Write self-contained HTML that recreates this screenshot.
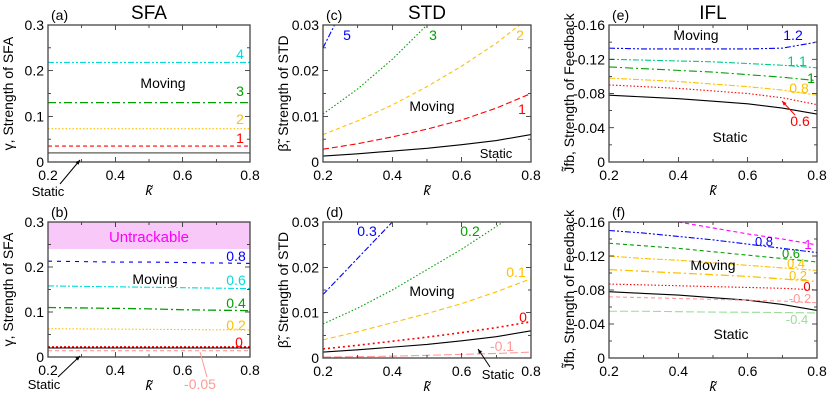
<!DOCTYPE html>
<html><head><meta charset="utf-8"><style>
body{margin:0;background:#fff}
svg{display:block;font-family:"Liberation Sans",sans-serif}
</style></head><body>
<svg id="fig" width="830" height="402" viewBox="0 0 830 402"></svg>
<script>
const xs = [0.2,0.3,0.4,0.5,0.6,0.7,0.8];
// panel a
const aStatic=[0.02,0.02,0.02,0.02,0.02,0.02,0.02];
const a1=[0.035,0.035,0.035,0.035,0.035,0.035,0.035];
const a2=[0.073,0.073,0.073,0.073,0.073,0.073,0.073];
const a3=[0.13,0.13,0.13,0.13,0.13,0.13,0.13];
const a4=[0.218,0.218,0.218,0.218,0.218,0.218,0.218];
// panel b
const b08=[0.213,0.212,0.211,0.211,0.21,0.209,0.208];
const b06=[0.158,0.157,0.156,0.155,0.154,0.153,0.152];
const b04=[0.11,0.109,0.108,0.107,0.105,0.104,0.103];
const b02=[0.063,0.0625,0.062,0.0615,0.061,0.0605,0.06];
const b0=[0.022,0.022,0.022,0.022,0.022,0.022,0.022];
const bStatic=[0.02,0.02,0.02,0.02,0.02,0.02,0.02];
const bm005=[0.014,0.014,0.014,0.014,0.014,0.014,0.014];
// panel c
const cStatic=[0.0013,0.0018,0.0024,0.003,0.0038,0.0047,0.006];
const c1=[0.0028,0.004,0.0055,0.0072,0.0092,0.0118,0.015];
const c2=[0.006,0.009,0.0125,0.0165,0.021,0.026,0.032];
const c3=[0.0105,0.016,0.0225,0.03,0.039,0.049,0.06];
const c5=[0.025,0.04,0.055,0.07,0.085,0.1,0.115];
// panel d
const dStatic=[0.0013,0.0018,0.0024,0.003,0.0038,0.0047,0.006];
const d0=[0.002,0.0028,0.0037,0.0046,0.0056,0.0067,0.008];
const dm01=[0.0002,0.0003,0.0004,0.0006,0.0008,0.001,0.0013];
const d01=[0.004,0.0058,0.0078,0.0098,0.012,0.0146,0.0175];
const d02=[0.0075,0.011,0.015,0.0195,0.024,0.029,0.034];
const d03=[0.014,0.022,0.030,0.039,0.048,0.057,0.066];
// panel e (magnitudes of negative feedback)
const eStatic=[0.078,0.076,0.074,0.071,0.068,0.063,0.056];
const e06=[0.09,0.088,0.086,0.083,0.08,0.075,0.067];
const e08=[0.098,0.096,0.094,0.091,0.088,0.084,0.078];
const e1=[0.111,0.109,0.107,0.105,0.102,0.099,0.095];
const e11=[0.12,0.119,0.118,0.117,0.115,0.113,0.11];
const e12=[0.133,0.132,0.132,0.132,0.132,0.133,0.14];
// panel f
const f1=[0.172,0.166,0.16,0.153,0.146,0.14,0.133];
const f08=[0.15,0.147,0.143,0.139,0.134,0.129,0.124];
const f06=[0.135,0.132,0.129,0.125,0.121,0.117,0.113];
const f04=[0.12,0.117,0.115,0.112,0.109,0.106,0.103];
const f02=[0.104,0.102,0.1,0.098,0.096,0.093,0.09];
const f0=[0.087,0.086,0.085,0.084,0.083,0.082,0.08];
const fStatic=[0.078,0.076,0.074,0.071,0.068,0.063,0.056];
const fm02=[0.072,0.071,0.07,0.069,0.068,0.067,0.065];
const fm04=[0.055,0.055,0.0545,0.054,0.0538,0.0535,0.053];
const xTicks=[0.2,0.4,0.6,0.8];
const xTickLabels=["0.2","0.4","0.6","0.8"];
const ySFA=[0,0.1,0.2,0.3], ySFALab=["0","0.1","0.2","0.3"];
const ySTD=[0,0.01,0.02,0.03], ySTDLab=["0","0.01","0.02","0.03"];
const yIFL=[0,0.04,0.08,0.12,0.16], yIFLLab=["0","-0.04","-0.08","-0.12","-0.16"];

const NS="http://www.w3.org/2000/svg";
const svg=document.getElementById('fig');
function mk(tag,attrs,parent){const e=document.createElementNS(NS,tag);for(const k in attrs)e.setAttribute(k,attrs[k]);(parent||svg).appendChild(e);return e;}
function txt(s,x,y,opt,parent){const t=mk('text',Object.assign({x:x,y:y,'font-size':13,fill:'#000'},opt||{}),parent);t.textContent=s;return t;}

function panel(id,L,T,R,B,ymax,yt,ytl,ytitle,letter,title){
  const g=mk('g',{});
  
  
  const sx=v=>L+(v-0.2)/0.6*(R-L);
  const sy=v=>B-v/ymax*(B-T);
  const cp=mk('clipPath',{id:'cp'+id},g);
  mk('rect',{x:L,y:T,width:R-L,height:B-T},cp);
  const plot=mk('g',{'clip-path':'url(#cp'+id+')'},g);
  const tg=mk('g',{},g);
  
  
  for(let v=0.2;v<=0.8001;v+=0.1){const x=sx(v);const major=Math.abs((v*10)%2)<0.01||Math.abs((v*10)%2-2)<0.01;const len=major?5:3;
    mk('line',{x1:x,y1:B,x2:x,y2:B-len,stroke:'#000','stroke-width':0.7},tg);mk('line',{x1:x,y1:T,x2:x,y2:T+len,stroke:'#000','stroke-width':0.7},tg);}
  const step=yt[1]-yt[0];
  for(let i=0;i<=Math.round(ymax/step*2);i++){const v=i*step/2;const y=sy(v);const len=i%2==0?5:3;
    mk('line',{x1:L,y1:y,x2:L+len,y2:y,stroke:'#000','stroke-width':0.7},tg);mk('line',{x1:R,y1:y,x2:R-len,y2:y,stroke:'#000','stroke-width':0.7},tg);}
  xTicks.forEach((v,i)=>{const t=txt(xTickLabels[i],sx(v),B+18,{'text-anchor':'middle','font-size':14},g);});
  yt.forEach((v,i)=>{const t=txt(ytl[i],L-4,sy(v)+5,{'text-anchor':'end','font-size':14},g);});
  const xl=txt('k̃',(L+R)/2,B+33,{'text-anchor':'middle','font-size':14,'font-style':'italic'},g);
  
  const yc=(T+B)/2, ytx=L-35;
  const yl=txt(ytitle,ytx,yc,{'text-anchor':'middle','font-size':14,transform:'rotate(-90 '+ytx+' '+yc+')'},g);
  
  const lt=txt(letter,L+3,T-5,{'font-size':14},g);
  
  if(title){const tt=txt(title,(L+R)/2,T-6,{'text-anchor':'middle','font-size':19},g);}
  return {g,plot,sx,sy,L,T,R,B};
}
function series(p,name,vals,color,dash,w){
  const d=vals.map((v,i)=>(i?'L':'M')+p.sx(xs[i]).toFixed(2)+' '+p.sy(v).toFixed(2)).join(' ');
  const e=mk('path',{d:d,fill:'none',stroke:color,'stroke-width':w||1.1,'stroke-dasharray':dash||'none'},p.plot);
  
  
}
function lab(p,name,s,x,y,color,size){const t=txt(s,x,y,{fill:color,'font-size':size||14,'text-anchor':'middle'},p.g);}
function frame(p){mk('rect',{x:p.L,y:p.T,width:p.R-p.L,height:p.B-p.T,fill:'none',stroke:'#444','stroke-width':1.3},p.g);}
function arrow(p,x1,y1,x2,y2,color){mk('line',{x1:x1,y1:y1,x2:x2,y2:y2,stroke:color,'stroke-width':1},p.g);
  const a=Math.atan2(y2-y1,x2-x1),h=5;mk('path',{d:`M${x2} ${y2} L${x2-h*Math.cos(a-0.4)} ${y2-h*Math.sin(a-0.4)} L${x2-h*Math.cos(a+0.4)} ${y2-h*Math.sin(a+0.4)}Z`,fill:color},p.g);}

const RED='#ff0000',YEL='#ffc000',GRN='#00a000',CYN='#00dddd',BLU='#0000ff',PNK='#ff9999',MAG='#ff00ff',LGR='#99dd99',TEAL='#00cc88';
// a
let p=panel('a',48,25,250,162,0.3,ySFA,ySFALab,'γ, Strength of SFA','(a)','SFA');
series(p,'line-static',aStatic,'#777','',1.4);
series(p,'line-1',a1,RED,'4 3');
series(p,'line-2',a2,YEL,'1.5 2');
series(p,'line-3',a3,GRN,'8 3 2 3',1.3);
series(p,'line-4',a4,CYN,'6 2 2 2 2 2');
frame(p);
lab(p,'label-4','4',240,59,CYN);lab(p,'label-3','3',240,96,GRN);lab(p,'label-2','2',240,124,YEL);lab(p,'label-1','1',240,143,RED);
lab(p,'label-moving','Moving',163,88,'#000',14);
lab(p,'label-static','Static',48,196,'#000',13);arrow(p,60,184,80,160,'#000');
// b
p=panel('b',48,222,250,357,0.3,ySFA,ySFALab,'γ, Strength of SFA','(b)','');
mk('rect',{x:48,y:p.sy(0.3),width:202,height:p.sy(0.24)-p.sy(0.3),fill:'#f8c8f8'},p.plot);
series(p,'line-0.8',b08,BLU,'4 5');
series(p,'line-0.6',b06,CYN,'6 2 2 2');
series(p,'line-0.4',b04,GRN,'8 3 2 3',1.3);
series(p,'line-0.2',b02,YEL,'1.5 2');
series(p,'line-0',b0,RED,'2 2',2);
series(p,'line-static',bStatic,'#000','',1.1);
series(p,'line-m0.05',bm005,PNK,'4 3');
frame(p);
lab(p,'label-untrackable','Untrackable',149,242,MAG,15);
lab(p,'label-0.8','0.8',236,261,BLU);lab(p,'label-0.6','0.6',236,285,CYN);lab(p,'label-0.4','0.4',236,308,GRN);lab(p,'label-0.2','0.2',236,330,YEL);lab(p,'label-0','0',239,347,RED);
lab(p,'label-moving','Moving',155,284,'#000',14);
lab(p,'label-static','Static',44,389,'#000',13);arrow(p,58,377,80,356,'#000');
lab(p,'label-m0.05','-0.05',200,389,PNK,14);mk('line',{x1:207,y1:377,x2:200,y2:352,stroke:PNK,'stroke-width':1},p.g);
// c
p=panel('c',323,25,531,162,0.03,ySTD,ySTDLab,'β̃, Strength of STD','(c)','STD');
series(p,'line-static',cStatic,'#000','',1.1);
series(p,'line-1',c1,RED,'6 3');
series(p,'line-2',c2,YEL,'4 3');
series(p,'line-3',c3,GRN,'1.5 2');
series(p,'line-5',c5,BLU,'6 2 2 2');
frame(p);
lab(p,'label-5','5',347,40,BLU);lab(p,'label-3','3',433,40,GRN);lab(p,'label-2','2',520,40,YEL);lab(p,'label-1','1',522,114,RED);
lab(p,'label-moving','Moving',432,111,'#000',14);lab(p,'label-static','Static',496,158,'#000',13);
// d
p=panel('d',323,222,531,358,0.03,ySTD,ySTDLab,'β̃, Strength of STD','(d)','');
series(p,'line-static',dStatic,'#000','',1.1);
series(p,'line-0',d0,RED,'2 3',1.6);
series(p,'line-m0.1',dm01,PNK,'8 3');
series(p,'line-0.1',d01,YEL,'5 3');
series(p,'line-0.2',d02,GRN,'1.5 2');
series(p,'line-0.3',d03,BLU,'6 2 2 2');
frame(p);
lab(p,'label-0.3','0.3',367,236,BLU);lab(p,'label-0.2','0.2',470,236,GRN);lab(p,'label-0.1','0.1',516,277,YEL);lab(p,'label-0','0',523,322,RED);lab(p,'label-m0.1','-0.1',502,351,PNK);
lab(p,'label-moving','Moving',432,296,'#000',14);lab(p,'label-static','Static',498,379,'#000',13);arrow(p,490,367,478,349,'#000');
// e
p=panel('e',609,25,817,162,0.16,yIFL,yIFLLab,'J̃fb, Strength of Feedback','(e)','IFL');
series(p,'line-static',eStatic,'#000','',1.1);
series(p,'line-0.6',e06,RED,'1.5 2');
series(p,'line-0.8',e08,YEL,'6 2 2 2');
series(p,'line-1',e1,GRN,'8 3 2 3');
series(p,'line-1.1',e11,TEAL,'6 2 2 2');
series(p,'line-1.2',e12,BLU,'6 2 2 2 2 2');
frame(p);
lab(p,'label-moving','Moving',696,40,'#000',14);lab(p,'label-static','Static',730,142,'#000',14);
lab(p,'label-1.2','1.2',793,40,BLU);lab(p,'label-1.1','1.1',797,66,TEAL);lab(p,'label-1','1',811,83,GRN);lab(p,'label-0.8','0.8',799,93,YEL);
lab(p,'label-0.6','0.6',800,126,RED);arrow(p,795,115,782,101,RED);
// f
p=panel('f',609,222,817,358,0.16,yIFL,yIFLLab,'J̃fb, Strength of Feedback','(f)','');
series(p,'line-1',f1,MAG,'4 3');
series(p,'line-0.8',f08,BLU,'6 2 2 2 2 2');
series(p,'line-0.6',f06,GRN,'4 3');
series(p,'line-0.4',f04,YEL,'6 2 2 2');
series(p,'line-0.2',f02,YEL,'8 3 2 3',1.3);
series(p,'line-0',f0,RED,'1.5 2');
series(p,'line-static',fStatic,'#000','',1.1);
series(p,'line-m0.2',fm02,PNK,'4 3');
series(p,'line-m0.4',fm04,LGR,'8 3');
frame(p);
lab(p,'label-moving','Moving',713,270,'#000',14);lab(p,'label-static','Static',731,339,'#000',14);
lab(p,'label-1','1',808,249,MAG,13);lab(p,'label-0.8','0.8',764,246,BLU,13);lab(p,'label-0.6','0.6',791,258,GRN,13);lab(p,'label-0.4','0.4',796,268,YEL,13);lab(p,'label-0.2','0.2',798,280,YEL,13);lab(p,'label-0','0',807,291,RED,13);lab(p,'label-m0.2','-0.2',800,303,PNK,13);lab(p,'label-m0.4','-0.4',797,324,LGR,13);
</script>
</body></html>
